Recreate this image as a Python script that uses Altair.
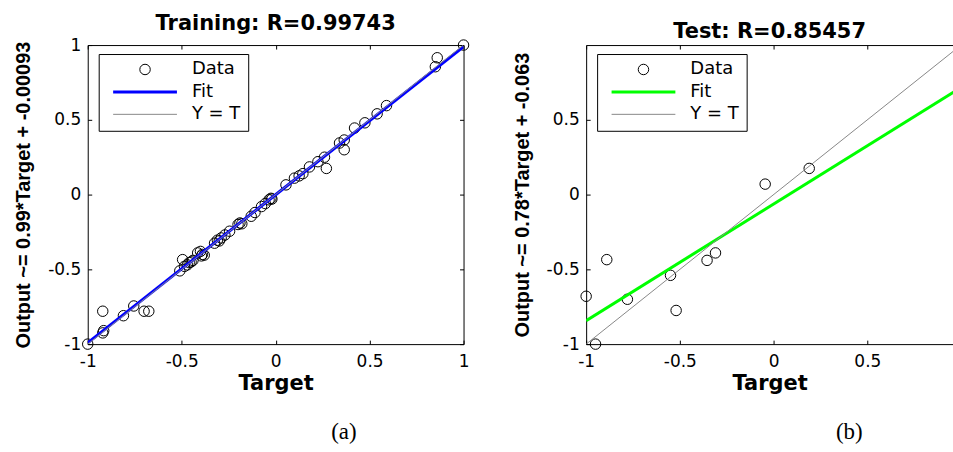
import altair as alt
import pandas as pd

# ---- training set: network output against target -------------------------
train_target = [
    -1.0, -0.92, -0.92, -0.915, -0.81, -0.755, -0.70, -0.675,
    -0.51, -0.495, -0.485, -0.47, -0.46, -0.45, -0.44,
    -0.415, -0.40, -0.39, -0.38, -0.395,
    -0.325, -0.31, -0.30, -0.29, -0.27, -0.245,
    -0.20, -0.19, -0.18, -0.13, -0.11,
    -0.075, -0.055, -0.035, -0.025, -0.02,
    0.055, 0.10, 0.125, 0.145, 0.18, 0.225, 0.26, 0.27,
    0.34, 0.365, 0.365, 0.42, 0.475, 0.54, 0.59,
    0.85, 0.86, 1.0,
]
train_output = [
    -1.0, -0.78, -0.925, -0.91, -0.81, -0.745, -0.78, -0.78,
    -0.51, -0.435, -0.48, -0.47, -0.455, -0.45, -0.44,
    -0.39, -0.38, -0.40, -0.405, -0.41,
    -0.325, -0.305, -0.31, -0.29, -0.27, -0.245,
    -0.20, -0.19, -0.195, -0.145, -0.12,
    -0.08, -0.06, -0.035, -0.025, -0.03,
    0.065, 0.11, 0.125, 0.14, 0.185, 0.22, 0.25, 0.175,
    0.345, 0.365, 0.30, 0.445, 0.48, 0.54, 0.595,
    0.855, 0.915, 1.0,
]
train_slope, train_intercept = 0.99, -0.00093
train_r = "0.99743"

# ---- test set ------------------------------------------------------------
test_target = [-1.0, -0.95, -0.89, -0.78, -0.55, -0.52, -0.355, -0.31, -0.045, 0.19]
test_output = [-0.68, -1.0, -0.435, -0.70, -0.54, -0.775, -0.44, -0.39, 0.07, 0.175]
test_slope, test_intercept = 0.78, -0.063
test_r = "0.85457"

series_names = ["Data", "Fit", "Y = T"]
series_shapes = ["circle", "stroke", "stroke"]
series_sizes = [110, 4096, 4096]
series_widths = [1, 3, 1]
line_ends = [-1, 1]

train_x_ticks = [-1, -0.5, 0, 0.5, 1]
train_y_ticks = [-1, -0.5, 0, 0.5, 1]
test_x_ticks = [-1, -0.5, 0, 0.5]
test_y_ticks = [-1, -0.5, 0, 0.5]

SANS = "DejaVu Sans"
TITLE_SANS = "Liberation Sans"
SERIF = "Liberation Serif"
PLOT_H = 300
IDENT_COLOR = "#888888"


def make_legend():
    return alt.Legend(
        title=None, orient="none", legendX=11, legendY=9,
        padding=7.5, strokeColor="black", fillColor="white",
        symbolOffset=5.5, labelOffset=13.5, rowPadding=4.5, clipHeight=16,
        symbolFillColor="transparent", symbolOpacity=1,
        labelFont=SANS, labelFontSize=18, labelColor="black",
    )


def panel(target, output, slope, intercept, r, name, fit_color,
          x_ticks, y_ticks, x_max, width, right_box, caption, caption_dx):
    pts = pd.DataFrame({"target": target, "output": output, "series": "Data"})
    fit = pd.DataFrame({"target": line_ends,
                        "output": [slope * t + intercept for t in line_ends],
                        "series": "Fit"})
    ident = pd.DataFrame({"target": line_ends, "output": line_ends, "series": "Y = T"})

    xs = alt.Scale(domain=[-1, x_max], nice=False, zero=False)
    ys = alt.Scale(domain=[-1, 1], nice=False, zero=False)
    legend = make_legend()
    color = alt.Color("series:N",
                      scale=alt.Scale(domain=series_names,
                                      range=["black", fit_color, IDENT_COLOR]),
                      legend=legend)
    shape = alt.Shape("series:N",
                      scale=alt.Scale(domain=series_names, range=series_shapes),
                      legend=legend)
    size = alt.Size("series:N",
                    scale=alt.Scale(type="ordinal", domain=series_names,
                                    range=series_sizes),
                    legend=legend)
    stroke_w = alt.StrokeWidth("series:N",
                               scale=alt.Scale(type="ordinal", domain=series_names,
                                               range=series_widths),
                               legend=legend)

    tick_axis = dict(labels=False, ticks=True, tickSize=4, tickColor="black",
                     tickWidth=1, domain=True, domainColor="black", domainWidth=1,
                     grid=False, title=None, minExtent=0, maxExtent=0)

    x_labels = alt.Axis(orient="bottom", values=x_ticks, labelExpr="'' + datum.value",
                        ticks=False, domain=False, grid=False, labelFlush=False,
                        labelOverlap=False, labelFont=SANS, labelFontSize=17,
                        labelColor="black", labelPadding=9,
                        title="Target", titleFont=SANS, titleFontSize=21,
                        titleFontWeight="bold", titleColor="black", titlePadding=4)
    y_labels = alt.Axis(orient="left", values=y_ticks, labelExpr="'' + datum.value",
                        ticks=False, domain=False, grid=False, labelFlush=False,
                        labelOverlap=False, labelFont=SANS, labelFontSize=17,
                        labelColor="black", labelPadding=7,
                        title=f"Output ~= {slope}*Target + {intercept}",
                        titleFont=TITLE_SANS, titleFontSize=20,
                        titleFontWeight="bold", titleColor="black", titlePadding=14)
    # inward-pointing ticks on every side of the box
    x_bottom_ticks = alt.Axis(orient="top", offset=-PLOT_H, values=x_ticks, **tick_axis)
    x_top_ticks = alt.Axis(orient="bottom", offset=-PLOT_H, values=x_ticks, **tick_axis)
    y_left_ticks = alt.Axis(orient="right", offset=-width, values=y_ticks, **tick_axis)
    y_right_ticks = (alt.Axis(orient="left", offset=-width, values=y_ticks, **tick_axis)
                     if right_box else None)

    data_layer = alt.Chart(pts).mark_point(filled=False, opacity=1).encode(
        x=alt.X("target:Q", scale=xs, axis=x_labels),
        y=alt.Y("output:Q", scale=ys, axis=y_labels),
        color=color, shape=shape, size=size, strokeWidth=stroke_w,
    )
    fit_layer = alt.Chart(fit).mark_line(clip=True).encode(
        x=alt.X("target:Q", scale=xs, axis=x_bottom_ticks),
        y=alt.Y("output:Q", scale=ys, axis=y_left_ticks),
        color=color, strokeWidth=stroke_w,
    )
    ident_layer = alt.Chart(ident).mark_line(clip=True).encode(
        x=alt.X("target:Q", scale=xs, axis=x_top_ticks),
        y=alt.Y("output:Q", scale=ys, axis=y_right_ticks),
        color=color, strokeWidth=stroke_w,
    )

    plot = alt.layer(data_layer, fit_layer, ident_layer).resolve_axis(
        x="independent", y="independent"
    ).properties(
        width=width, height=PLOT_H,
        title=alt.TitleParams(f"{name}: R={r}", font=SANS, fontSize=21,
                              fontWeight="bold", color="black", offset=2.5,
                              anchor="middle", frame="group"),
    )
    return alt.vconcat(plot).properties(
        title=alt.TitleParams(caption, orient="bottom", font=SERIF, fontSize=23,
                              fontWeight="normal", color="black", offset=27,
                              anchor="middle", dx=caption_dx)
    )


left = panel(train_target, train_output, train_slope, train_intercept, train_r,
             "Training", "#0000ff", train_x_ticks, train_y_ticks, 1.0, 377,
             True, "(a)", 102)
right = panel(test_target, test_output, test_slope, test_intercept, test_r,
              "Test", "#00ff00", test_x_ticks, test_y_ticks, 0.957, 368,
              False, "(b)", 117)

chart = alt.hconcat(left, right, spacing=40).resolve_scale(
    color="independent", shape="independent", size="independent",
    strokeWidth="independent",
).properties(
    padding={"left": 13, "top": 11.5, "right": 0, "bottom": 0},
    background="white",
).configure_view(stroke=None)

chart.save("out.html", embed_options={"renderer": "svg", "actions": False})
